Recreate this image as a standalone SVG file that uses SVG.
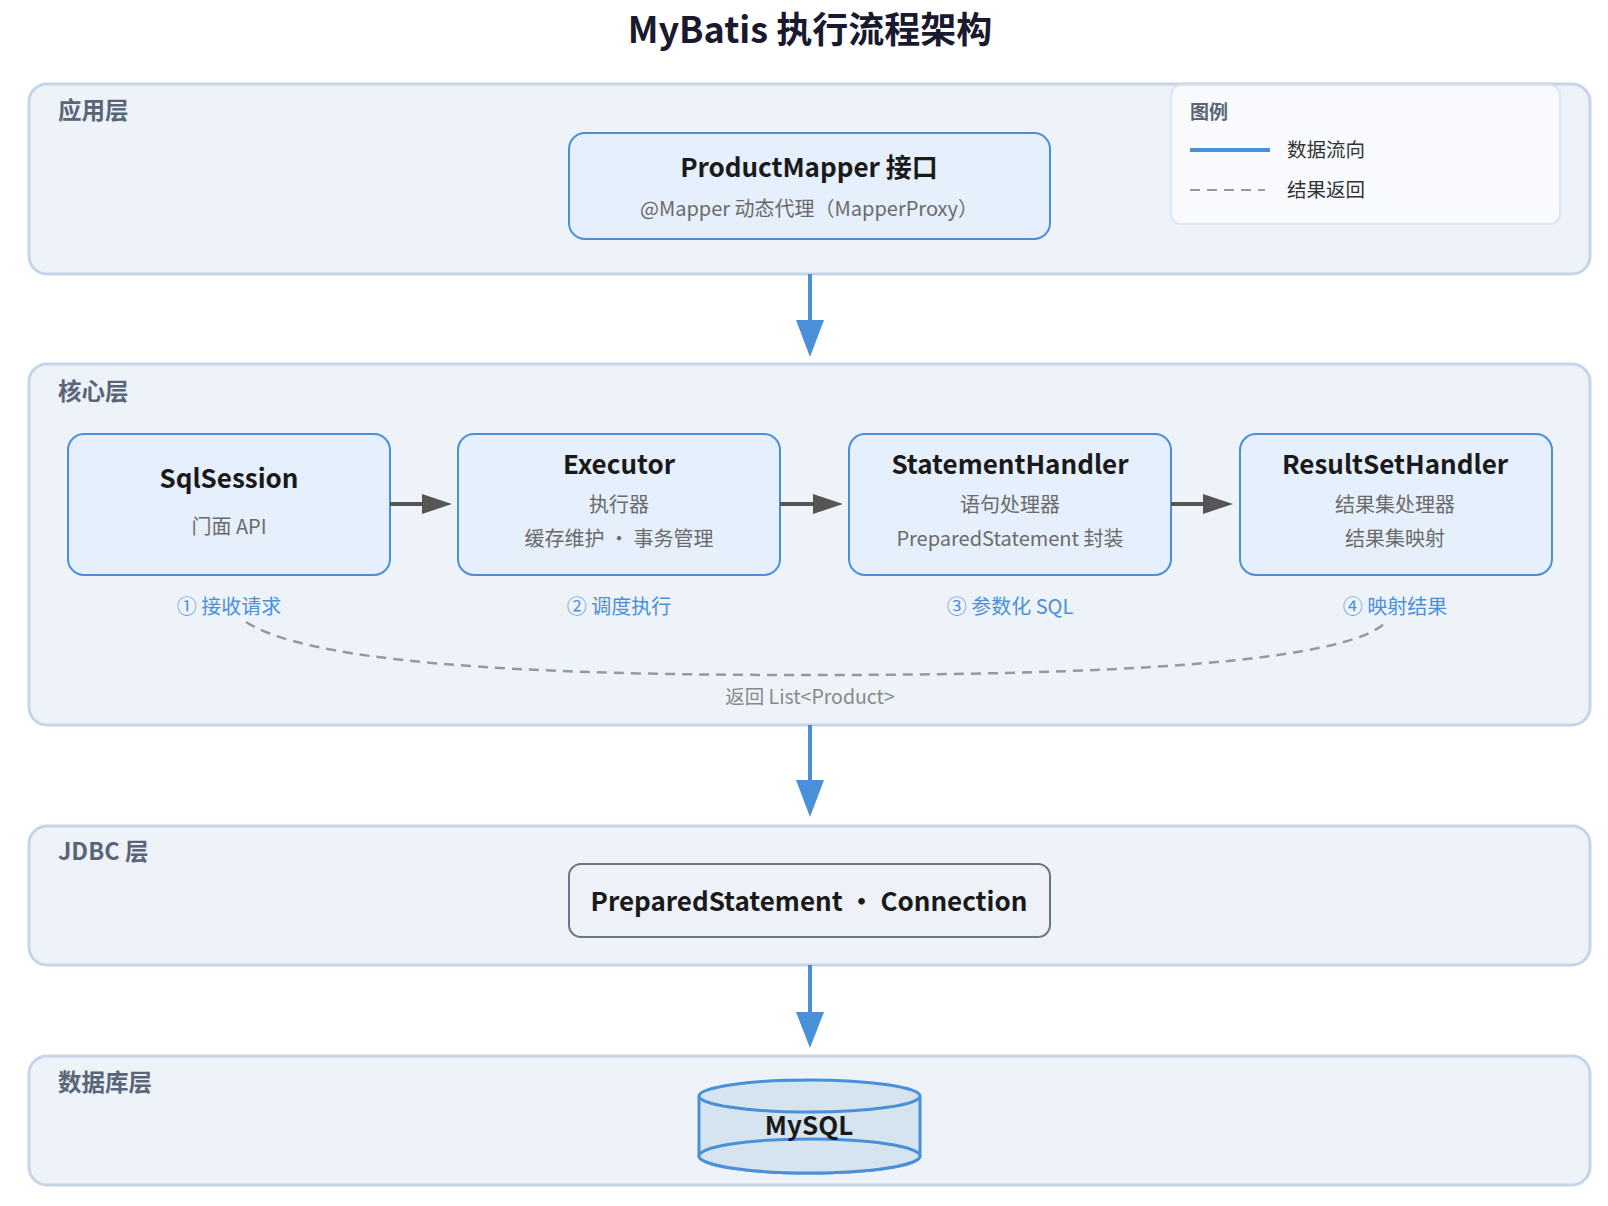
<svg xmlns="http://www.w3.org/2000/svg" width="1608" height="1206" viewBox="0 0 1608 1206">
<defs>
<style>
text{font-family:"Noto Sans CJK SC","Noto Sans",sans-serif}
.layer{fill:#eef3fa;stroke:#c5d4e8;stroke-width:3}
.ll{font-size:23.5px;font-weight:bold;fill:#5a6577}
.node{fill:#e6effc;stroke:#4a90d9;stroke-width:2}
.t{font-size:26px;font-weight:bold;fill:#1a1a1a;text-anchor:middle}
.s{font-size:20px;fill:#6b6b6b;text-anchor:middle}
.st{font-size:20px;fill:#4a90d9;text-anchor:middle}
.flow{stroke:#4a90d9;stroke-width:4;fill:none}
.gray{stroke:#555;stroke-width:4;fill:none}
</style>
</defs>
<rect width="1608" height="1206" fill="#fff"/>
<text x="810" y="43" text-anchor="middle" font-size="36" font-weight="bold" fill="#1a1a2e">MyBatis 执行流程架构</text>

<g id="layer-app"><rect class="layer" x="29" y="84" width="1561" height="190" rx="18"/><text class="ll" x="58" y="119">应用层</text></g>
<g id="legend"><rect x="1171" y="85" width="389" height="139" rx="10" fill="#f8fafd" stroke="#dde5f0" stroke-width="2"/>
<text x="1190" y="119" font-size="19" font-weight="bold" fill="#5a6577">图例</text>
<line x1="1190" y1="150" x2="1270" y2="150" stroke="#4a90d9" stroke-width="4"/><text x="1287" y="157" font-size="19.5" fill="#333">数据流向</text>
<line x1="1190" y1="190" x2="1265" y2="190" stroke="#999" stroke-width="2" stroke-dasharray="10,7"/><text x="1287" y="197" font-size="19.5" fill="#333">结果返回</text></g>
<g id="productmapper"><rect class="node" x="569" y="133" width="481" height="106" rx="16"/><text class="t" x="809" y="177" font-size="28">ProductMapper 接口</text><text class="s" x="809" y="216" font-size="22.5">@Mapper 动态代理（MapperProxy）</text></g>

<g id="layer-core"><rect class="layer" x="29" y="364" width="1561" height="361" rx="18" fill="#f4f7fc"/><text class="ll" x="58" y="400">核心层</text></g>
<g id="sqlsession"><rect class="node" x="68" y="434" width="322" height="141" rx="16"/><text class="t" x="229" y="488">SqlSession</text><text class="s" x="229" y="534">门面 API</text></g>
<g id="executor"><rect class="node" x="458" y="434" width="322" height="141" rx="16"/><text class="t" x="619" y="474">Executor</text><text class="s" x="619" y="512">执行器</text><text class="s" x="619" y="546">缓存维护 · 事务管理</text></g>
<g id="statementhandler"><rect class="node" x="849" y="434" width="322" height="141" rx="16"/><text class="t" x="1010" y="474">StatementHandler</text><text class="s" x="1010" y="512">语句处理器</text><text class="s" x="1010" y="546">PreparedStatement 封装</text></g>
<g id="resultsethandler"><rect class="node" x="1240" y="434" width="312" height="141" rx="16"/><text class="t" x="1395" y="474">ResultSetHandler</text><text class="s" x="1395" y="512">结果集处理器</text><text class="s" x="1395" y="546">结果集映射</text></g>
<g id="steps"><text class="st" x="229" y="614">① 接收请求</text><text class="st" x="619" y="614">② 调度执行</text><text class="st" x="1010" y="614">③ 参数化 SQL</text><text class="st" x="1395" y="614">④ 映射结果</text>
<text x="810" y="704" text-anchor="middle" font-size="19.5" fill="#888">返回 List&lt;Product&gt;</text></g>

<g id="layer-jdbc"><rect class="layer" x="29" y="826" width="1561" height="139" rx="18"/><text class="ll" x="58" y="860">JDBC 层</text></g>
<g id="jdbc"><rect x="569" y="864" width="481" height="73" rx="12" fill="#eef2f8" stroke="#6b7585" stroke-width="2"/><text class="t" x="809" y="911">PreparedStatement · Connection</text></g>

<g id="layer-db"><rect class="layer" x="29" y="1056" width="1561" height="129" rx="18"/><text class="ll" x="58" y="1091">数据库层</text></g>
<g id="mysql"><path d="M699,1096 L699,1156 A110.5,17 0 0 0 920,1156 L920,1096" fill="#d6e4f0" stroke="#4a90d9" stroke-width="3"/>
<ellipse cx="809.5" cy="1096" rx="110.5" ry="16" fill="#d6e4f0" stroke="#4a90d9" stroke-width="3"/>
<ellipse cx="809.5" cy="1156" rx="110.5" ry="17" fill="#d6e4f0" stroke="#4a90d9" stroke-width="3"/>
<text class="t" x="809" y="1135" font-size="28">MySQL</text></g>

<g id="connectors">
<path class="flow" d="M810,274 V322"/><path d="M796,320 L824,320 L810,357z" fill="#4a90d9"/>
<path class="flow" d="M810,725 V782"/><path d="M796,780 L824,780 L810,817z" fill="#4a90d9"/>
<path class="flow" d="M810,965 V1014"/><path d="M796,1012 L824,1012 L810,1048z" fill="#4a90d9"/>
<path class="gray" d="M390,504 H424"/><path d="M422,494 L452,504 L422,514z" fill="#555"/>
<path class="gray" d="M780,504 H815"/><path d="M813,494 L843,504 L813,514z" fill="#555"/>
<path class="gray" d="M1171,504 H1205"/><path d="M1203,494 L1233,504 L1203,514z" fill="#555"/>
<path d="M246,622 C320,670 600,675 810,675 C1020,675 1330,670 1384,624" fill="none" stroke="#999" stroke-width="2.5" stroke-dasharray="10,7"/>
</g>
</svg>
